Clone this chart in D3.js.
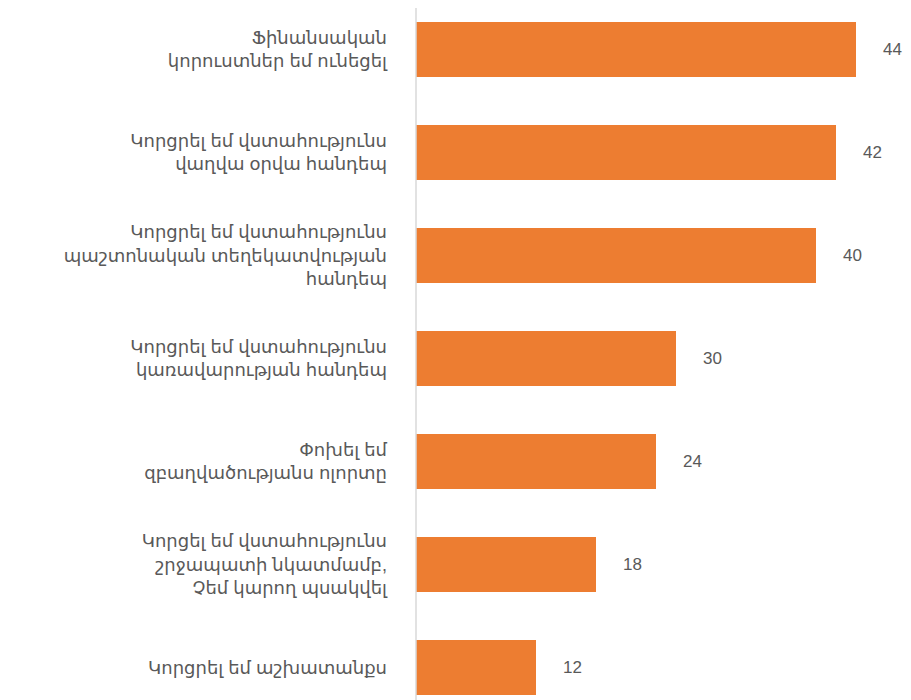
<!DOCTYPE html>
<html>
<head>
<meta charset="utf-8">
<script src="https://cdn.jsdelivr.net/npm/d3@7"></script>
<style>
  body { margin: 0; background: #fff; }
  text { font-family: "Liberation Sans", Arial, "DejaVu Sans", sans-serif; fill: #595959; }
</style>
</head>
<body>
<div id="chart"></div>
<script>
const width = 911, height = 700;

// categories, each split into the lines shown in the picture
const categories = [
  ["Ֆինանսական", "կորուստներ եմ ունեցել"],
  ["Կորցրել եմ վստահությունս", "վաղվա օրվա հանդեպ"],
  ["Կորցրել եմ վստահությունս", "պաշտոնական տեղեկատվության", "հանդեպ"],
  ["Կորցրել եմ վստահությունս", "կառավարության հանդեպ"],
  ["Փոխել եմ", "զբաղվածությանս ոլորտը"],
  ["Կորցել եմ վստահությունս", "շրջապատի նկատմամբ,", "Չեմ կարող պսակվել"],
  ["Կորցրել եմ աշխատանքս"]
];
// printed value labels
const valueLabels = [44, 42, 40, 30, 24, 18, 12];
// bar lengths as drawn in the picture
const barValues = [44, 42, 40, 26, 24, 18, 12];

const svg = d3.select("#chart").append("svg")
    .attr("width", width)
    .attr("height", height);

const idx = d3.range(categories.length);

const x = d3.scaleLinear().domain([0, 50]).range([416, 916]);
const y = d3.scaleBand().domain(idx).range([-2, 719])
    .paddingInner(0.466).paddingOuter(0.233);

// bars
svg.selectAll("rect.bar")
  .data(idx)
  .join("rect")
    .attr("class", "bar")
    .attr("x", x(0))
    .attr("y", i => y(i))
    .attr("width", i => x(barValues[i]) - x(0))
    .attr("height", y.bandwidth())
    .attr("fill", "#ED7D31");

// vertical axis line
svg.append("line")
    .attr("x1", x(0)).attr("x2", x(0))
    .attr("y1", 8).attr("y2", height)
    .attr("stroke", "#D9D9D9")
    .attr("stroke-width", 1.5);

// value labels
svg.selectAll("text.val")
  .data(idx)
  .join("text")
    .attr("class", "val")
    .attr("x", i => x(barValues[i]) + 27)
    .attr("y", i => y(i) + y.bandwidth() / 2)
    .attr("dy", "0.35em")
    .style("font-size", "17px")
    .text(i => valueLabels[i]);

// category labels
const lineH = 23.5;
const cat = svg.selectAll("text.cat")
  .data(idx)
  .join("text")
    .attr("class", "cat")
    .attr("text-anchor", "end")
    .style("font-size", "18px")
    .attr("y", i => y(i) + y.bandwidth() / 2);

cat.selectAll("tspan")
  .data(i => categories[i].map((t, k, a) => ({t, k, n: a.length})))
  .join("tspan")
    .attr("x", 387)
    .attr("dy", d => d.k === 0 ? ((-(d.n - 1) / 2) * lineH + 6) + "px" : lineH + "px")
    .text(d => d.t);
</script>
</body>
</html>
